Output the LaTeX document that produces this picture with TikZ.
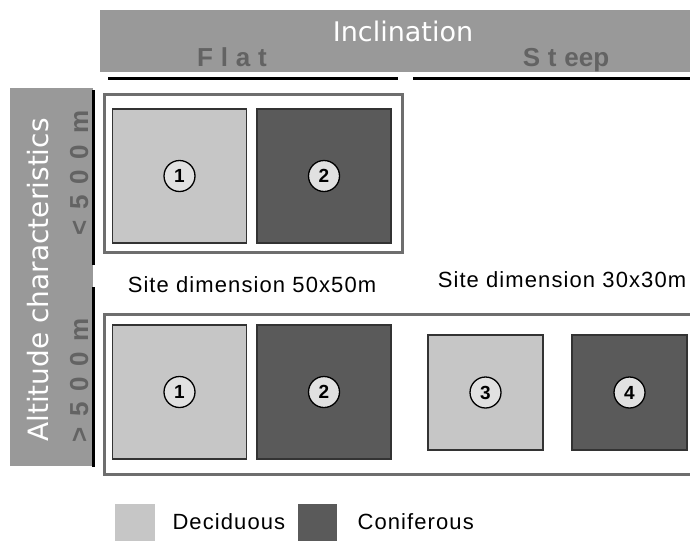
\documentclass[tikz,border=0pt]{standalone}
\usepackage{fontspec}
\setmainfont{Liberation Sans}
\newfontfamily\widefont{DejaVu Sans}
\newfontfamily\boldfont{Liberation Sans Bold}
\newfontfamily\classfont[LetterSpace=30]{Liberation Sans Bold}
\newfontfamily\altifont[LetterSpace=41]{Liberation Sans Bold}
\newfontfamily\sitefont[LetterSpace=5]{Liberation Sans}
\usetikzlibrary{positioning}

\definecolor{bannergray}{HTML}{999999}
\definecolor{labelgray}{HTML}{636363}
\definecolor{framegray}{HTML}{6E6E6E}
\definecolor{decidgray}{HTML}{C6C6C6}
\definecolor{conifgray}{HTML}{5A5A5A}
\definecolor{circgray}{HTML}{E1E1E1}

\tikzset{
  decid/.style={draw=black!80, line width=1.2pt, fill=decidgray, inner sep=0pt},
  conif/.style={draw=black!80, line width=1.2pt, fill=conifgray, inner sep=0pt},
  plotnum/.style={circle, draw=black, line width=1.3pt, fill=circgray, minimum size=31pt, inner sep=0pt,
    font=\boldfont\fontsize{19}{19}\selectfont},
  classlabel/.style={text=labelgray, font=\classfont\fontsize{26}{26}\selectfont},
  sitelabel/.style={font=\sitefont\fontsize{22}{22}\selectfont},
  framebox/.style={draw=framegray, line width=3pt}
}

\begin{document}
\begin{tikzpicture}[x=1pt, y=-1pt]
\useasboundingbox (0,0) rectangle (690,541);

% banners
\fill[bannergray] (100,10) rectangle (690,72);
\fill[bannergray] (10,88) rectangle (93,466);
\node[anchor=base, text=white, font=\widefont\fontsize{27}{27}\selectfont] (incl) at (403,41) {Inclination};
\node[anchor=base, rotate=90, text=white, font=\widefont\fontsize{28}{28}\selectfont] (alti) at (48,280) {Altitude characteristics};

\node[classlabel, anchor=base] (flat) at (232,66) {Flat};
\node[classlabel, anchor=base] (steep) at (566,66) {Ste{\boldfont ep}};
\node[classlabel, anchor=base, rotate=90, font=\altifont\fontsize{26}{26}\selectfont] (low) at (88,173) {<500m};
\node[classlabel, anchor=base, rotate=90, font=\altifont\fontsize{26}{26}\selectfont] (high) at (88,380) {>500m};

\draw[line width=3pt] (108,78) -- (398,78);
\draw[line width=3pt] (413,78) -- (690,78);
\draw[line width=3pt] (93.5,90) -- (93.5,265);
\draw[line width=3pt] (93.5,287) -- (93.5,467);

% frames
\draw[framebox] (104,94) rectangle (402,252);
\draw[framebox] (690,314) -| (104,474) -- (690,474);

% plots, flat
\node[decid, minimum size=134pt] (up1) at (179.5,176) {};
\node[conif, minimum size=134pt] (up2) at (324,176) {};
\node[decid, minimum size=134pt] (dn1) at (179.5,392) {};
\node[conif, minimum size=134pt] (dn2) at (324,392) {};
% plots, steep
\node[decid, minimum size=115pt] (dn3) at (485.5,392.5) {};
\node[conif, minimum size=115pt] (dn4) at (629.5,392.5) {};

\node[plotnum] (n1) at (up1) {1};
\node[plotnum] (n2) at (up2) {2};
\node[plotnum] (n3) at (dn1) {1};
\node[plotnum] (n4) at (dn2) {2};
\node[plotnum] (n5) at (dn3) {3};
\node[plotnum] (n6) at (dn4) {4};

\node[sitelabel, anchor=base] (dim50) at (252,292) {Site dimension 50x50m};
\node[sitelabel, anchor=base] (dim30) at (562,287) {Site dimension 30x30m};

% legend
\node[decid, draw=none, minimum width=40pt, minimum height=37pt] (keyd) at (135,522.5) {};
\node[sitelabel, anchor=base west] (keydt) at (169,529) {Deciduous};
\node[conif, draw=none, minimum width=39pt, minimum height=37pt] (keyc) at (317.5,522.5) {};
\node[sitelabel, anchor=base west] (keyct) at (354,529) {Coniferous};
\end{tikzpicture}
\end{document}
